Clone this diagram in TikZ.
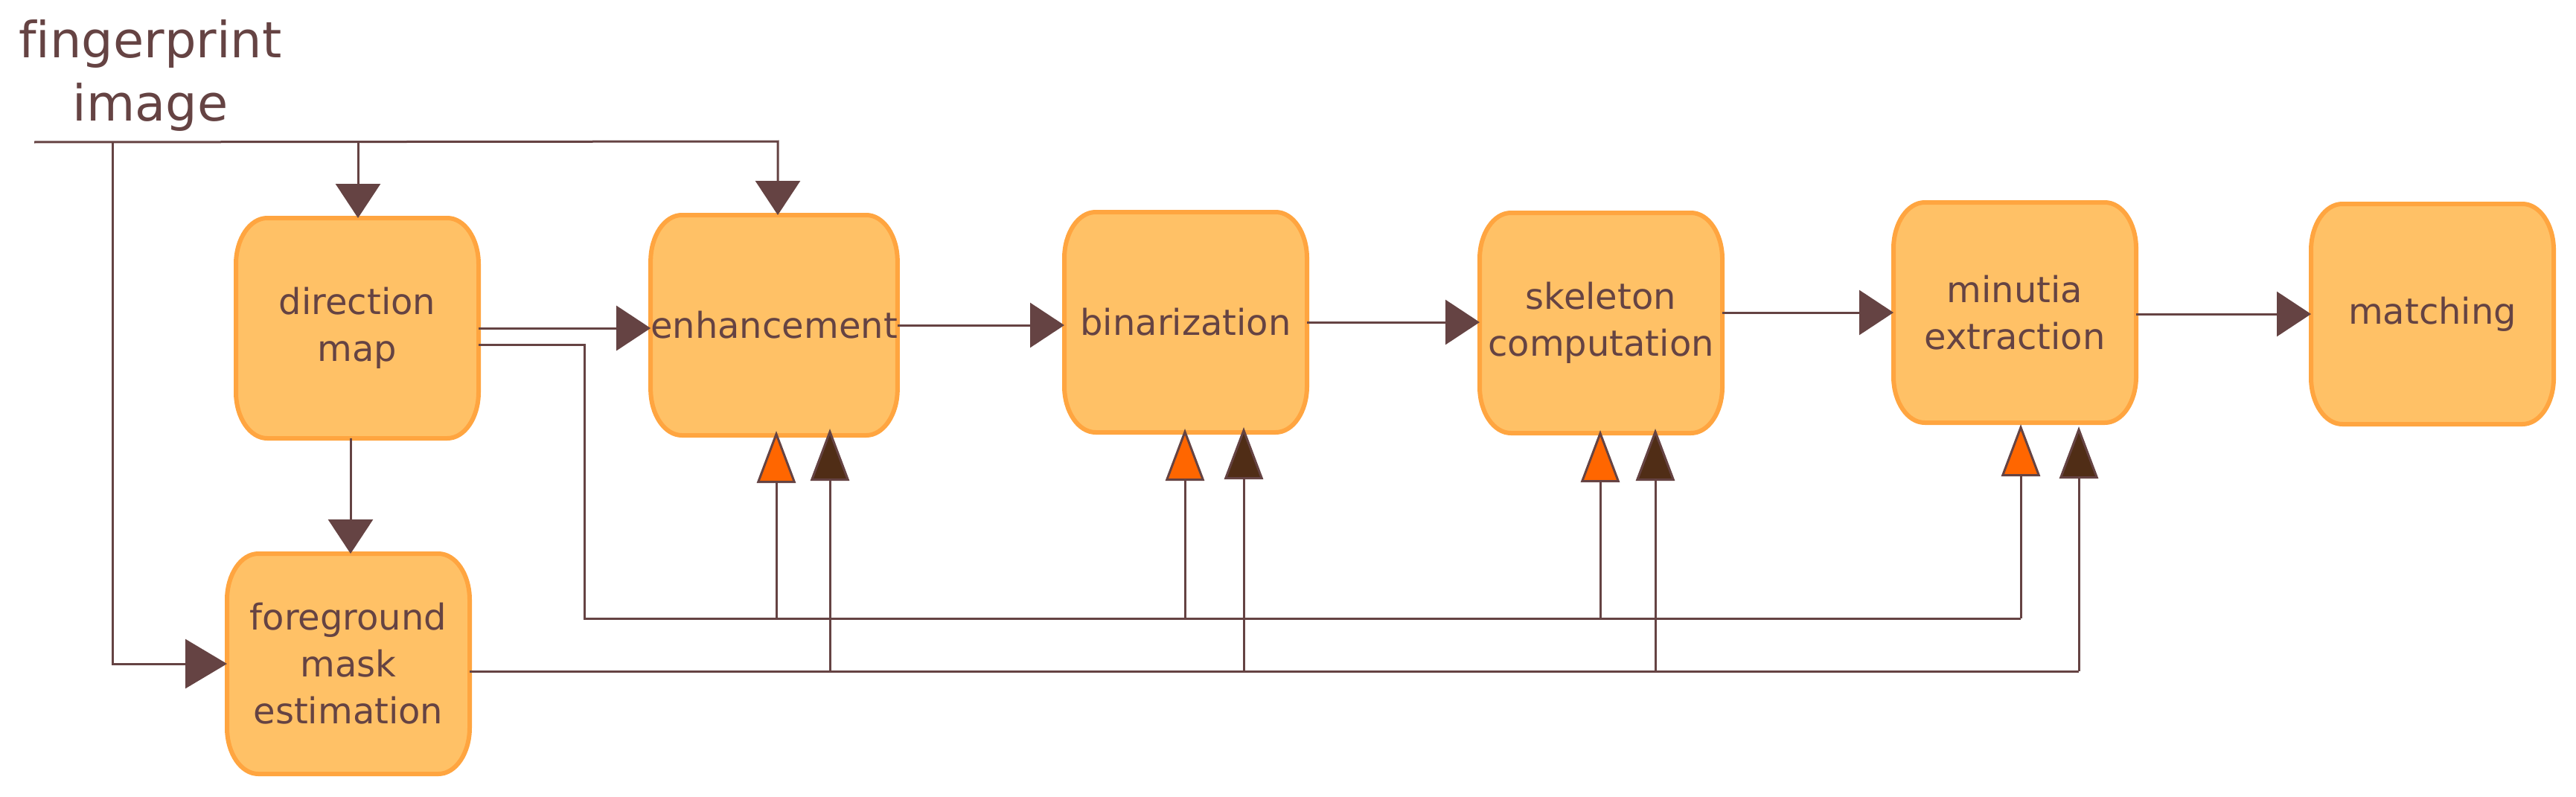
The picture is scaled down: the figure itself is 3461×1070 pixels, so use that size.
\documentclass[tikz,border=0pt]{standalone}
\usepackage{fontspec}
\setmainfont{DejaVu Sans}[Ligatures={NoCommon}]
\usetikzlibrary{arrows.meta}
\pgfdeclarelayer{bg}
\pgfsetlayers{bg,main}
\definecolor{ln}{RGB}{101,67,67}
\definecolor{bfill}{RGB}{255,193,102}
\definecolor{bdraw}{RGB}{255,165,64}
\definecolor{tipor}{RGB}{255,102,0}
\definecolor{tipdk}{RGB}{80,45,22}
\begin{document}
\begin{tikzpicture}[x=0.5pt,y=-0.5pt,
  stage/.style={minimum width=163pt, minimum height=148pt, inner sep=0pt,
    outer sep=0pt, align=center, text=ln, font=\fontsize{24}{31.5}\selectfont},
  stagebox/.style={draw=bdraw, fill=bfill, line width=3pt},
  conn/.style={draw=ln, line width=1.5pt},
  flow/.style={conn, -{Triangle[width=30pt,length=23pt]}},
  bigflow/.style={conn, -{Triangle[width=33pt,length=28pt]}},
  tipA/.style={conn, -{Triangle[width=26pt,length=35pt,fill=tipor]}},
  tipB/.style={conn, -{Triangle[width=26pt,length=35pt,fill=tipdk]}},
]
\useasboundingbox (0,0) rectangle (3461,1070);

% stages
\node[stage] (dir)   at (480,441)  {direction\\map};
\node[stage] (enh)   at (1040,437) {enhancement};
\node[stage] (bin)   at (1593,433) {binarization};
\node[stage] (skel)  at (2151,434) {skeleton\\computation};
\node[stage] (minu)  at (2707,420) {minutia\\extraction};
\node[stage] (match) at (3268,422) {matching};
\node[stage] (fg)    at (468,892)  {foreground\\mask\\estimation};

% rounded (elliptic-cornered) boxes behind the stage texts
\begin{pgfonlayer}{bg}
\foreach \n in {dir,enh,bin,skel,minu,match,fg}{
  \draw[stagebox] ([xshift=21pt]\n.north west) -- ([xshift=-21pt]\n.north east)
    arc[start angle=90,end angle=0,x radius=21pt,y radius=31pt]
    -- ([yshift=31pt]\n.south east)
    arc[start angle=0,end angle=-90,x radius=21pt,y radius=31pt]
    -- ([xshift=21pt]\n.south west)
    arc[start angle=270,end angle=180,x radius=21pt,y radius=31pt]
    -- ([yshift=-31pt]\n.north west)
    arc[start angle=180,end angle=90,x radius=21pt,y radius=31pt]
    -- cycle;
}
\end{pgfonlayer}

% input label
\node[text=ln, font=\fontsize{33.5}{42.5}\selectfont, align=center, inner sep=0pt]
  (src) at (202,102) {fingerprint\\image};

% input distribution line
\coordinate (t0) at (46,191);
\coordinate (t1) at (1045,190);
\coordinate (jA) at (151,191);
\coordinate (jB) at (481,191);
\draw[flow] (t0) -- (t1) -- (t1 |- enh.north);
\draw[flow] (jB) -- (jB |- dir.north);
\draw[bigflow] (jA) -- (jA |- fg.west) -- (fg.west);

% direction map to foreground
\coordinate (dsx) at (471,0);
\draw[flow] (dsx |- dir.south) -- (dsx |- fg.north);

% main chain
\draw[flow] (dir.east) -- (enh.west |- dir.east);
\draw[flow] (enh.east) -- (bin.west |- enh.east);
\draw[flow] (bin.east) -- (skel.west |- bin.east);
\draw[flow] (skel.east |- minu.west) -- (minu.west);
\draw[flow] (minu.east |- match.west) -- (match.west);

% feedback columns
\path (enh.south)  ++(3,-6)  coordinate (eo) ++(72,-3) coordinate (ed);
\path (bin.south)  ++(-1,-5) coordinate (bo) ++(79,-2) coordinate (bd);
\path (skel.south) ++(-1,-4) coordinate (so) ++(74,-2) coordinate (sd);
\path (minu.south) ++(8,2)   coordinate (mo) ++(78,3)  coordinate (md);

% direction map bus
\coordinate (b1) at (785,831);
\path ([yshift=-11pt]dir.east) coordinate (d2);
\draw[conn] (d2) -| (b1) -- (mo |- b1);
\draw[tipA] (eo |- b1) -- (eo);
\draw[tipA] (bo |- b1) -- (bo);
\draw[tipA] (so |- b1) -- (so);
\draw[tipA] (mo |- b1) -- (mo);

% foreground mask bus
\path ([yshift=-5pt]fg.east) coordinate (f2);
\draw[conn] (f2) -- (md |- f2);
\draw[tipB] (ed |- f2) -- (ed);
\draw[tipB] (bd |- f2) -- (bd);
\draw[tipB] (sd |- f2) -- (sd);
\draw[tipB] (md |- f2) -- (md);
\end{tikzpicture}
\end{document}
